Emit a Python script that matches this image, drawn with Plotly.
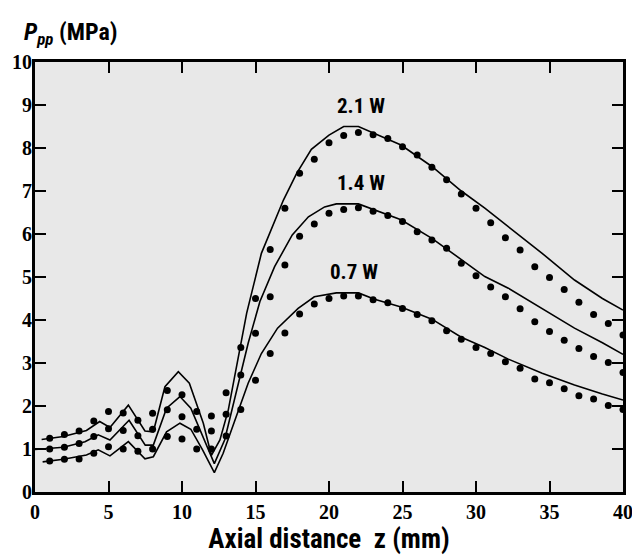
import plotly.graph_objects as go

# ---- measured points (dots), z = 1..40 mm ----
z_dots = list(range(1, 41))
dots_21 = [1.25, 1.34, 1.42, 1.65, 1.87, 1.84, 1.67, 1.83, 2.36, 2.26,
           1.87, 1.77, 2.31, 3.36, 4.50, 5.64, 6.60, 7.41, 7.74, 8.12,
           8.29, 8.36, 8.31, 8.22, 8.03, 7.84, 7.55, 7.26, 6.93, 6.60,
           6.26, 5.91, 5.63, 5.24, 4.99, 4.71, 4.41, 4.13, 3.92, 3.65]
dots_14 = [1.00, 1.04, 1.13, 1.29, 1.47, 1.43, 1.31, 1.46, 1.91, 1.75,
           1.46, 1.42, 1.81, 2.72, 3.69, 4.54, 5.28, 5.95, 6.23, 6.48,
           6.57, 6.61, 6.53, 6.43, 6.29, 6.05, 5.86, 5.67, 5.32, 5.03,
           4.77, 4.54, 4.26, 3.96, 3.73, 3.53, 3.34, 3.15, 3.01, 2.78]
dots_07 = [0.72, 0.76, 0.77, 0.90, 1.05, 1.00, 0.95, 1.00, 1.29, 1.23,
           1.00, 1.00, 1.30, 1.92, 2.60, 3.22, 3.70, 4.14, 4.37, 4.50,
           4.56, 4.56, 4.47, 4.40, 4.27, 4.13, 3.98, 3.75, 3.55, 3.36,
           3.22, 3.03, 2.88, 2.63, 2.54, 2.40, 2.24, 2.16, 2.01, 1.92]

# ---- simulated curves (lines) ----
z_line_21 = [0.45, 1.93, 3.5, 4.4, 5.1, 6.35, 7.48, 8.05, 8.84, 9.75, 10.5,
             11.45, 12.0, 12.58, 13.15, 13.94, 14.4, 15.4, 16.9, 17.8, 18.8,
             20.0, 21.0, 22.0, 23.1, 24.9, 27.0, 29.0, 30.6, 32.2, 34.5,
             36.7, 38.6, 40.0]
p_line_21 = [1.22, 1.29, 1.43, 1.64, 1.50, 2.02, 1.42, 1.40, 2.45, 2.80, 2.53,
             1.60, 0.85, 1.21, 1.91, 3.30, 4.16, 5.55, 6.79, 7.41, 7.97,
             8.30, 8.50, 8.50, 8.34, 8.07, 7.57, 7.00, 6.60, 6.17, 5.55,
             4.93, 4.50, 4.23]

z_line_14 = [0.0, 1.93, 3.4, 4.3, 5.1, 6.4, 7.5, 8.05, 8.95, 9.86, 10.6,
             11.4, 12.2, 12.9, 13.8, 14.5, 15.3, 16.3, 17.5, 18.6, 19.7,
             20.5, 22.0, 23.1, 24.9, 27.0, 29.0, 30.6, 32.2, 34.5, 36.7,
             38.6, 40.0]
p_line_14 = [0.99, 1.04, 1.17, 1.33, 1.21, 1.67, 1.09, 1.09, 1.95, 2.22, 1.95,
             1.29, 0.66, 1.21, 2.45, 3.46, 4.43, 5.24, 5.98, 6.40, 6.63,
             6.70, 6.70, 6.56, 6.33, 5.90, 5.40, 5.01, 4.74, 4.27, 3.81,
             3.47, 3.20]

z_line_07 = [0.52, 1.93, 3.5, 4.3, 5.1, 6.35, 7.48, 8.05, 8.95, 9.86, 10.6,
             11.4, 12.2, 12.8, 13.6, 14.5, 15.4, 16.5, 17.9, 19.0, 20.5,
             22.0, 23.1, 24.9, 27.0, 29.0, 30.6, 32.2, 34.5, 36.7, 38.6, 40.0]
p_line_07 = [0.70, 0.76, 0.86, 0.98, 0.84, 1.17, 0.77, 0.82, 1.40, 1.60, 1.46,
             0.98, 0.45, 0.90, 1.67, 2.53, 3.22, 3.81, 4.27, 4.54, 4.63,
             4.63, 4.48, 4.30, 4.02, 3.60, 3.36, 3.09, 2.76, 2.49, 2.28, 2.14]

labels = ["2.1 W", "1.4 W", "0.7 W"]
label_z = [22.2, 22.2, 21.7]
label_p = [8.98, 7.18, 5.12]

x_ticks = [0, 5, 10, 15, 20, 25, 30, 35, 40]
y_ticks = [0, 1, 2, 3, 4, 5, 6, 7, 8, 9, 10]

NARROW = "Roboto Condensed, Liberation Sans Narrow, Arial Narrow, Liberation Sans, Arial"

fig = go.Figure()
for zl, pl in [(z_line_21, p_line_21), (z_line_14, p_line_14), (z_line_07, p_line_07)]:
    fig.add_trace(go.Scatter(x=zl, y=pl, mode="lines",
                             line=dict(color="black", width=1.6),
                             showlegend=False, hoverinfo="skip"))
for d in [dots_21, dots_14, dots_07]:
    fig.add_trace(go.Scatter(x=z_dots, y=d, mode="markers",
                             marker=dict(color="black", size=7),
                             showlegend=False))

for t, zx, py in zip(labels, label_z, label_p):
    fig.add_annotation(x=zx, y=py, text="<b>" + t + "</b>", showarrow=False,
                       font=dict(family=NARROW, size=21, color="black"))

fig.add_annotation(xref="paper", yref="paper", x=-0.022, y=1.067,
                   xanchor="left", yanchor="middle",
                   text="<b><i>P</i><sub><i>pp</i></sub> (MPa)</b>", showarrow=False,
                   font=dict(family=NARROW, size=24, color="black"))

tick_font = dict(family="Liberation Serif, Times New Roman, serif", size=20, color="black")
axis_common = dict(showline=True, linewidth=3, linecolor="black", mirror="ticks",
                   ticks="inside", ticklen=11, tickwidth=2, tickcolor="black",
                   showgrid=False, zeroline=False, tickfont=tick_font,
                   automargin=False)

fig.update_xaxes(range=[0, 40], tickvals=x_ticks,
                 ticktext=["<b>%d</b>" % v for v in x_ticks],
                 title=dict(text="<b>Axial distance&nbsp; z (mm)</b>",
                            font=dict(family=NARROW, size=27, color="black"),
                            standoff=3),
                 **axis_common)
fig.update_yaxes(range=[0, 10], tickvals=y_ticks,
                 ticktext=["<b>%d</b>" % v for v in y_ticks],
                 ticklabelstandoff=-4,
                 **axis_common)

# page body has an 8px margin: the figure is sized to fit the 640x556 window
fig.update_layout(width=632, height=548,
                  margin=dict(l=27, r=17, t=54, b=64),
                  plot_bgcolor="#e8e8e8", paper_bgcolor="white")

fig.write_html("out.html")
